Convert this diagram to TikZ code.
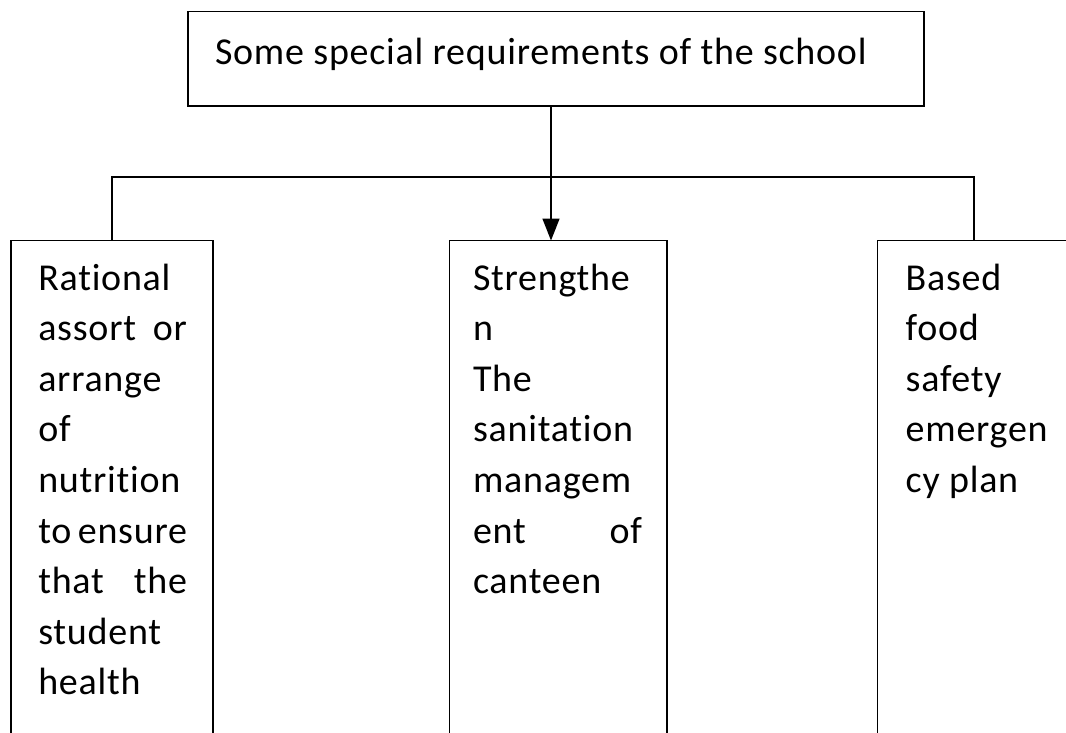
\documentclass[tikz,border=0pt]{standalone}
\usepackage{fontspec}
\setmainfont[LetterSpace=2, Ligatures=NoCommon]{Carlito}
\usetikzlibrary{arrows.meta}
\begin{document}
\begin{tikzpicture}[x=1pt,y=-1pt,
  box/.style={draw=black, line width=1.6pt, inner sep=0pt, outer sep=0pt, anchor=north west},
  txt/.style={anchor=base west, inner sep=0pt, outer sep=0pt, align=flush left, font=\fontsize{38}{50.6}\selectfont},
  conn/.style={draw=black, line width=1.6pt}]
\useasboundingbox (0,0) rectangle (1066,732);
\fill[white] (0,0) rectangle (1066,732);
\begin{scope}
\clip (0,0) rectangle (1066,732);
% boxes
\node[box, minimum width=736.3pt, minimum height=94.7pt] (top) at (187.7,11.3) {};
\node[box, minimum width=201.7pt, minimum height=530pt] (lbox) at (11,240.5) {};
\node[box, minimum width=217.4pt, minimum height=530pt] (mbox) at (449.3,240.5) {};
\node[box, minimum width=193.4pt, minimum height=530pt] (rbox) at (877.3,240.5) {};
% texts
\node[txt] (ttl) at (215,64) {Some special requirements of the school};
\node[txt, text width=148.7pt] (ltxt) at (38.3,290) {Rational\\assort\hfill or\\arrange\\of\\nutrition\\to~ensure\\that\hfill the\\student\\health};
\node[txt, text width=169pt] (mtxt) at (473,290) {Strengthe\\n\\The\\sanitation\\managem\\ent\hfill of\\canteen};
\node[txt, text width=150pt] (rtxt) at (905.7,290) {Based\\food\\safety\\emergen\\cy~plan};
% connectors
\coordinate (bar) at (551,177);
\draw[conn] (lbox.north) |- (bar) -| (rbox.north);
\draw[conn, -{Triangle[length=22pt,width=17pt]}] (top.south -| bar) -- (mbox.north -| bar);
\end{scope}
\end{tikzpicture}
\end{document}
